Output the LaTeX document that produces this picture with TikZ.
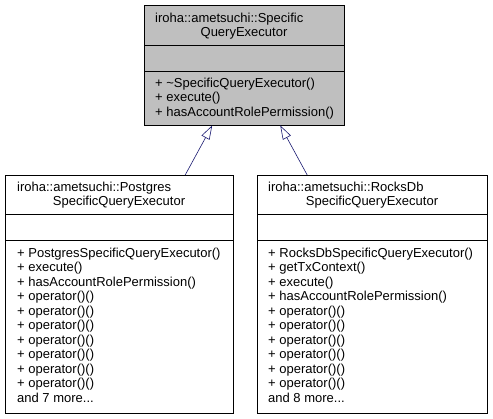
\documentclass[tikz,border=0pt]{standalone}
\usepackage{fontspec}
\setmainfont{Liberation Sans}
\usetikzlibrary{arrows.meta,positioning,calc}
\definecolor{edgeblue}{HTML}{191970}
\definecolor{basegray}{HTML}{BFBFBF}
\newcommand{\andmore}[1]{and #1 more...}

\begin{document}
\begin{tikzpicture}[
    x=1pt, y=-1pt,
    font=\fontsize{13}{14.5}\selectfont,
    classbox/.style={draw, inner sep=0pt, anchor=north west},
    member/.style={anchor=base west, inner sep=0pt},
    title/.style={anchor=base, inner sep=0pt},
    inherit/.style={-{Triangle[open, length=14pt, width=9pt]}, edgeblue, semithick}
  ]
  \useasboundingbox (0,0) rectangle (493,419);

  % base class
  \node[classbox, fill=basegray, minimum width=200pt, minimum height=120pt] (base) at (144,5) {};
  \draw ($(base.north west)+(0,40)$) -- ($(base.north east)+(0,40)$);
  \draw ($(base.north west)+(0,66)$) -- ($(base.north east)+(0,66)$);
  \node[member] (base-t1) at (155,22.5) {iroha::ametsuchi::Specific};
  \node[title] (base-t2) at (244,37) {QueryExecutor};
  \foreach \txt [count=\i from 0] in {+ \textasciitilde SpecificQueryExecutor(), + execute(), + hasAccountRolePermission()}
    \node[member] (base-m\i) at (155,87.5+14.5*\i) {\txt};

  % postgres executor
  \node[classbox, minimum width=228pt, minimum height=238pt] (pg) at (5,175) {};
  \draw ($(pg.north west)+(0,39)$) -- ($(pg.north east)+(0,39)$);
  \draw ($(pg.north west)+(0,65)$) -- ($(pg.north east)+(0,65)$);
  \node[member] (pg-t1) at (17,191.5) {iroha::ametsuchi::Postgres};
  \node[title] (pg-t2) at (119,206) {SpecificQueryExecutor};
  \foreach \txt [count=\i from 0] in {+ PostgresSpecificQueryExecutor(), + execute(), + hasAccountRolePermission(),
      + operator()(), + operator()(), + operator()(), + operator()(), + operator()(), + operator()(), + operator()(), \andmore{7}}
    \node[member] (pg-m\i) at (17,257.5+14.5*\i) {\txt};

  % rocksdb executor
  \node[classbox, minimum width=230pt, minimum height=238pt] (rdb) at (257,175) {};
  \draw ($(rdb.north west)+(0,39)$) -- ($(rdb.north east)+(0,39)$);
  \draw ($(rdb.north west)+(0,65)$) -- ($(rdb.north east)+(0,65)$);
  \node[member] (rdb-t1) at (268,191.5) {iroha::ametsuchi::RocksDb};
  \node[title] (rdb-t2) at (372,206) {SpecificQueryExecutor};
  \foreach \txt [count=\i from 0] in {+ RocksDbSpecificQueryExecutor(), + getTxContext(), + execute(), + hasAccountRolePermission(),
      + operator()(), + operator()(), + operator()(), + operator()(), + operator()(), + operator()(), \andmore{8}}
    \node[member] (rdb-m\i) at (268,257.5+14.5*\i) {\txt};

  \draw[inherit] ($(pg.north)+(66,0)$) -- ($(base.south)+(-32,0)$);
  \draw[inherit] ($(rdb.north)+(-65,0)$) -- ($(base.south)+(36,0)$);
\end{tikzpicture}
\end{document}
